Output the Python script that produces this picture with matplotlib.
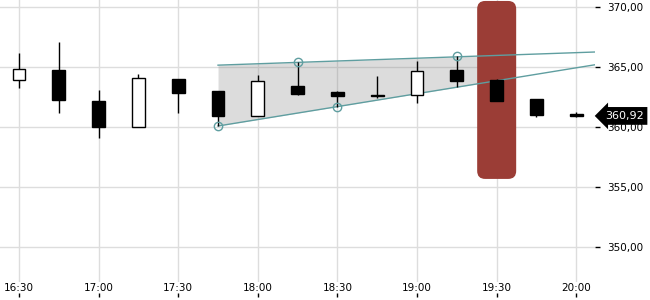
import numpy as np
import matplotlib
matplotlib.use("Agg")
import matplotlib.pyplot as plt
from matplotlib.patches import FancyBboxPatch
from matplotlib.ticker import FuncFormatter

# 15 minute candles
times = ["16:30", "16:45", "17:00", "17:15", "17:30", "17:45", "18:00", "18:15",
         "18:30", "18:45", "19:00", "19:15", "19:30", "19:45", "20:00"]
opens = [363.89, 364.75, 362.17, 360.00, 364.00, 363.00, 360.94, 363.42,
         362.92, 362.65, 362.63, 364.75, 363.92, 362.33, 361.08]
highs = [366.17, 367.08, 363.08, 364.42, 364.00, 363.00, 364.33, 365.42,
         363.00, 364.25, 365.50, 365.92, 364.00, 362.33, 361.25]
lows = [363.28, 361.19, 359.06, 360.00, 361.19, 360.11, 360.94, 362.70,
        361.69, 362.44, 362.03, 363.31, 362.19, 360.86, 360.81]
closes = [364.81, 362.28, 360.03, 364.06, 362.86, 360.94, 363.83, 362.78,
          362.61, 362.62, 364.67, 363.86, 362.19, 361.03, 360.92]
last_price = 360.92

# wedge (index, price)
upper_line = [(5, 365.15), (14.5, 366.25)]
lower_line = [(5, 360.08), (14.5, 365.20)]
wedge_end = 12
pivots = [(5, 360.08), (7, 365.42), (8, 361.69), (11, 365.92)]

# highlighted candle
hl_idx = 12
hl_low, hl_high = 355.67, 370.5

teal = "#5f9ea0"
x = np.arange(len(times))

fig = plt.figure(figsize=(6.5, 3), dpi=100)
ax = fig.add_axes([0, 18 / 300, 595 / 650, 282 / 300])

ax.set_xlim(-0.477, 14.47)
ax.set_ylim(347.08, 370.58)
ax.set_axisbelow(True)
ax.grid(True, color="#dddddd", lw=1)
for s in ax.spines.values():
    s.set_visible(False)

# highlight box
red = FancyBboxPatch((hl_idx - 0.49, hl_low), 0.98, hl_high - hl_low,
                     boxstyle="round,pad=0,rounding_size=0.2",
                     mutation_aspect=3.32, fc="#9b3d36", ec="none", zorder=1)
ax.add_patch(red)

# wedge fill + lines
def line_at(pts, xv):
    (x0, y0), (x1, y1) = pts
    return y0 + (y1 - y0) * (np.asarray(xv) - x0) / (x1 - x0)

xf = np.array([upper_line[0][0], wedge_end])
ax.fill_between(xf, line_at(lower_line, xf), line_at(upper_line, xf),
                color="#808080", alpha=0.27, lw=0, zorder=0.8)
for pts in (upper_line, lower_line):
    ax.plot([p[0] for p in pts], [p[1] for p in pts], color=teal, lw=1, zorder=2)
ax.plot([p[0] for p in pivots], [p[1] for p in pivots], "o", ms=6,
        mfc="none", mec=teal, mew=1, zorder=4)

# candles
o, h, l, c = map(np.array, (opens, highs, lows, closes))
ax.vlines(x, l, h, color="black", lw=1, zorder=3)
up = c >= o
ax.bar(x, np.abs(c - o), bottom=np.minimum(o, c), width=0.32,
       color=np.where(up, "white", "black"), edgecolor="black", lw=1, zorder=3.5)

# axes / ticks
ax.yaxis.tick_right()
ax.set_yticks([350, 355, 360, 365, 370])
ax.yaxis.set_major_formatter(FuncFormatter(lambda v, p: f"{v:.2f}".replace(".", ",")))
ax.tick_params(axis="y", length=3.6, width=1, pad=5, labelsize=7.5)
ax.set_xticks(x[::2])
ax.set_xticklabels(times[::2])
ax.tick_params(axis="x", length=0, pad=1, labelsize=7.5)

sec = ax.secondary_xaxis(-0.053)
sec.set_xticks(x[::2])
sec.set_xticklabels([])
sec.tick_params(axis="x", direction="in", length=3, width=1)
sec.spines["bottom"].set_visible(False)

ax.annotate(f"{last_price:.2f}".replace(".", ","), xy=(1, last_price),
            xycoords=("axes fraction", "data"), xytext=(7, 0),
            textcoords="offset points", ha="left", va="center",
            color="white", fontsize=8, annotation_clip=False,
            bbox=dict(boxstyle="larrow,pad=0.35", fc="black", ec="none"))

fig.savefig("out.png", dpi=100)
